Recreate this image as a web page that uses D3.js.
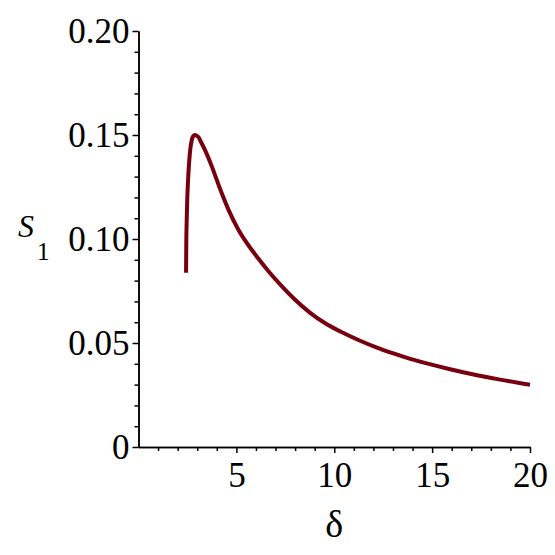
<!DOCTYPE html>
<html>
<head>
<meta charset="utf-8">
<script src="https://cdn.jsdelivr.net/npm/d3@7"></script>
<style>
  body { margin: 0; background: #fff; }
  svg { display: block; }
</style>
</head>
<body>
<svg width="555" height="555"></svg>
<script>
// curve
var deltaValues = [2.43, 2.44, 2.46, 2.49, 2.53, 2.58, 2.65, 2.72, 2.8, 2.88, 2.97, 3.06, 3.2, 3.41, 3.75,
  4.17, 4.6, 5.11, 5.79, 6.23, 6.64, 7.4, 7.92, 8.77, 9.62, 10.47, 11.32, 12.18, 13.02,
  13.88, 14.73, 15.92, 17, 18.47, 20];
var s1Values = [0.0838, 0.097, 0.108, 0.119, 0.128, 0.136, 0.1435, 0.1475, 0.1495, 0.150, 0.1497, 0.149,
  0.1465, 0.1425, 0.1348, 0.124, 0.114, 0.1043, 0.0947, 0.0893, 0.0845, 0.0765, 0.0715, 0.0645,
  0.059, 0.0548, 0.0511, 0.0478, 0.045, 0.0424, 0.0402, 0.0374, 0.0351, 0.0324, 0.0299];

var xTicks = [5, 10, 15, 20];
var xMinor = [1, 2, 3, 4, 6, 7, 8, 9, 11, 12, 13, 14, 16, 17, 18, 19];
var yTicks = [0, 0.05, 0.10, 0.15, 0.20];
var yMinor = [0.01, 0.02, 0.03, 0.04, 0.06, 0.07, 0.08, 0.09, 0.11, 0.12, 0.13, 0.14, 0.16, 0.17, 0.18, 0.19];

var serif = "'Liberation Serif', 'Times New Roman', serif";

var svg = d3.select('svg');

var xScale = d3.scaleLinear()
      .domain([0, 20])
      .range([138.5, 530]);
var yScale = d3.scaleLinear()
      .domain([0, 0.2])
      .range([447, 31]);

var data = deltaValues.map((d, i) => ({x: d, y: s1Values[i]}));

// minor ticks
svg.append("g")
      .attr("class", "axis")
      .attr("transform", 'translate(0,447)')
      .call(d3.axisBottom(xScale).tickValues(xMinor).tickSize(4).tickSizeOuter(0).tickFormat(""));
svg.append("g")
      .attr("class", "axis")
      .attr("transform", 'translate(138.5,0)')
      .call(d3.axisLeft(yScale).tickValues(yMinor).tickSize(4).tickSizeOuter(0).tickFormat(""));

// major ticks
svg.append("g")
      .attr("class", "axis")
      .attr("transform", 'translate(0,447)')
      .call(d3.axisBottom(xScale).tickValues(xTicks).tickSize(6).tickSizeOuter(0).tickPadding(9));
svg.append("g")
      .attr("class", "axis")
      .attr("transform", 'translate(138.5,0)')
      .call(d3.axisLeft(yScale).tickValues(yTicks).tickSize(6).tickSizeOuter(0).tickPadding(3)
        .tickFormat(d => d === 0 ? "0" : d3.format(".2f")(d)));

svg.selectAll(".axis").attr("font-family", null);
svg.selectAll(".axis text")
      .style("font-family", serif)
      .style("font-size", "35px")
      .style("fill", "#000");
svg.selectAll(".axis path, .axis line")
      .style("stroke", "#000")
      .style("stroke-width", 1.5);

var line = d3.line()
      .x(d => xScale(d.x))
      .y(d => yScale(d.y))
      .curve(d3.curveMonotoneX);

svg.append("path")
      .datum(data)
      .attr("d", line)
      .attr("fill", "none")
      .attr("stroke", "#78000e")
      .attr("stroke-width", 4);

// axis titles
var t = svg.append("text")
      .attr("x", 18)
      .attr("y", 237)
      .style("font-family", serif)
      .style("font-size", "32px");
t.append("tspan").style("font-style", "italic").text("S");
t.append("tspan").style("font-size", "25px").attr("dx", 3).attr("dy", 23).text("1");

svg.append("text")
      .attr("x", xScale(10))
      .attr("y", 537)
      .attr("text-anchor", "middle")
      .style("font-family", serif)
      .style("font-size", "38px")
      .text("δ");
</script>
</body>
</html>
